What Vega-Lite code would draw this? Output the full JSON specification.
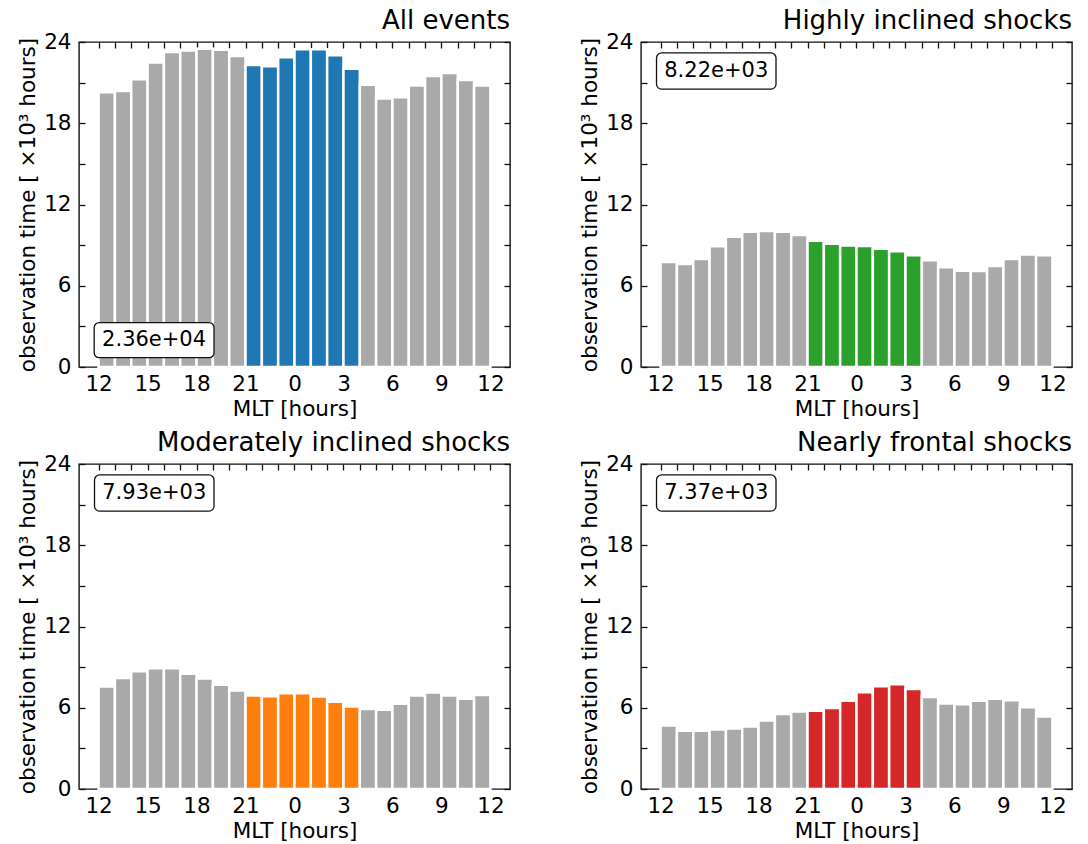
{
  "$schema": "https://vega.github.io/schema/vega-lite/v6.json",
  "background": "white",
  "padding": {"left": 16, "top": 7, "right": 8, "bottom": 2},
  "config": {
    "font": "DejaVu Sans",
    "view": {"stroke": "#111111", "strokeWidth": 1.4},
    "axis": {"labelFont": "DejaVu Sans", "titleFont": "DejaVu Sans", "labelFontSize": 21.5, "titleFontSize": 21.5, "labelColor": "#000000", "titleColor": "#000000", "titleFontWeight": "normal", "grid": false, "domain": false, "tickColor": "#111111", "tickWidth": 1.3, "labelFlush": false, "labelOverlap": false},
    "title": {"font": "DejaVu Sans", "fontSize": 26, "fontWeight": "normal", "anchor": "end", "color": "#000000", "offset": -3, "frame": "group"}
  },
  "datasets": {
    "obs": [
      {"panel": "all", "mlt": 12, "x0": 12, "x1": 13, "kh": 20.29, "sector": "day"},
      {"panel": "all", "mlt": 13, "x0": 13, "x1": 14, "kh": 20.39, "sector": "day"},
      {"panel": "all", "mlt": 14, "x0": 14, "x1": 15, "kh": 21.25, "sector": "day"},
      {"panel": "all", "mlt": 15, "x0": 15, "x1": 16, "kh": 22.48, "sector": "day"},
      {"panel": "all", "mlt": 16, "x0": 16, "x1": 17, "kh": 23.26, "sector": "day"},
      {"panel": "all", "mlt": 17, "x0": 17, "x1": 18, "kh": 23.38, "sector": "day"},
      {"panel": "all", "mlt": 18, "x0": 18, "x1": 19, "kh": 23.51, "sector": "day"},
      {"panel": "all", "mlt": 19, "x0": 19, "x1": 20, "kh": 23.43, "sector": "day"},
      {"panel": "all", "mlt": 20, "x0": 20, "x1": 21, "kh": 22.97, "sector": "day"},
      {"panel": "all", "mlt": 21, "x0": 21, "x1": 22, "kh": 22.30, "sector": "night"},
      {"panel": "all", "mlt": 22, "x0": 22, "x1": 23, "kh": 22.21, "sector": "night"},
      {"panel": "all", "mlt": 23, "x0": 23, "x1": 24, "kh": 22.87, "sector": "night"},
      {"panel": "all", "mlt": 0, "x0": 24, "x1": 25, "kh": 23.46, "sector": "night"},
      {"panel": "all", "mlt": 1, "x0": 25, "x1": 26, "kh": 23.46, "sector": "night"},
      {"panel": "all", "mlt": 2, "x0": 26, "x1": 27, "kh": 23.02, "sector": "night"},
      {"panel": "all", "mlt": 3, "x0": 27, "x1": 28, "kh": 22.03, "sector": "night"},
      {"panel": "all", "mlt": 4, "x0": 28, "x1": 29, "kh": 20.85, "sector": "day"},
      {"panel": "all", "mlt": 5, "x0": 29, "x1": 30, "kh": 19.82, "sector": "day"},
      {"panel": "all", "mlt": 6, "x0": 30, "x1": 31, "kh": 19.92, "sector": "day"},
      {"panel": "all", "mlt": 7, "x0": 31, "x1": 32, "kh": 20.78, "sector": "day"},
      {"panel": "all", "mlt": 8, "x0": 32, "x1": 33, "kh": 21.49, "sector": "day"},
      {"panel": "all", "mlt": 9, "x0": 33, "x1": 34, "kh": 21.71, "sector": "day"},
      {"panel": "all", "mlt": 10, "x0": 34, "x1": 35, "kh": 21.20, "sector": "day"},
      {"panel": "all", "mlt": 11, "x0": 35, "x1": 36, "kh": 20.78, "sector": "day"},
      {"panel": "highly", "mlt": 12, "x0": 12, "x1": 13, "kh": 7.75, "sector": "day"},
      {"panel": "highly", "mlt": 13, "x0": 13, "x1": 14, "kh": 7.61, "sector": "day"},
      {"panel": "highly", "mlt": 14, "x0": 14, "x1": 15, "kh": 7.98, "sector": "day"},
      {"panel": "highly", "mlt": 15, "x0": 15, "x1": 16, "kh": 8.91, "sector": "day"},
      {"panel": "highly", "mlt": 16, "x0": 16, "x1": 17, "kh": 9.62, "sector": "day"},
      {"panel": "highly", "mlt": 17, "x0": 17, "x1": 18, "kh": 9.99, "sector": "day"},
      {"panel": "highly", "mlt": 18, "x0": 18, "x1": 19, "kh": 10.04, "sector": "day"},
      {"panel": "highly", "mlt": 19, "x0": 19, "x1": 20, "kh": 9.99, "sector": "day"},
      {"panel": "highly", "mlt": 20, "x0": 20, "x1": 21, "kh": 9.75, "sector": "day"},
      {"panel": "highly", "mlt": 21, "x0": 21, "x1": 22, "kh": 9.33, "sector": "night"},
      {"panel": "highly", "mlt": 22, "x0": 22, "x1": 23, "kh": 9.11, "sector": "night"},
      {"panel": "highly", "mlt": 23, "x0": 23, "x1": 24, "kh": 8.98, "sector": "night"},
      {"panel": "highly", "mlt": 0, "x0": 24, "x1": 25, "kh": 8.94, "sector": "night"},
      {"panel": "highly", "mlt": 1, "x0": 25, "x1": 26, "kh": 8.74, "sector": "night"},
      {"panel": "highly", "mlt": 2, "x0": 26, "x1": 27, "kh": 8.54, "sector": "night"},
      {"panel": "highly", "mlt": 3, "x0": 27, "x1": 28, "kh": 8.25, "sector": "night"},
      {"panel": "highly", "mlt": 4, "x0": 28, "x1": 29, "kh": 7.88, "sector": "day"},
      {"panel": "highly", "mlt": 5, "x0": 29, "x1": 30, "kh": 7.36, "sector": "day"},
      {"panel": "highly", "mlt": 6, "x0": 30, "x1": 31, "kh": 7.11, "sector": "day"},
      {"panel": "highly", "mlt": 7, "x0": 31, "x1": 32, "kh": 7.09, "sector": "day"},
      {"panel": "highly", "mlt": 8, "x0": 32, "x1": 33, "kh": 7.46, "sector": "day"},
      {"panel": "highly", "mlt": 9, "x0": 33, "x1": 34, "kh": 7.98, "sector": "day"},
      {"panel": "highly", "mlt": 10, "x0": 34, "x1": 35, "kh": 8.30, "sector": "day"},
      {"panel": "highly", "mlt": 11, "x0": 35, "x1": 36, "kh": 8.25, "sector": "day"},
      {"panel": "moderately", "mlt": 12, "x0": 12, "x1": 13, "kh": 7.57, "sector": "day"},
      {"panel": "moderately", "mlt": 13, "x0": 13, "x1": 14, "kh": 8.20, "sector": "day"},
      {"panel": "moderately", "mlt": 14, "x0": 14, "x1": 15, "kh": 8.70, "sector": "day"},
      {"panel": "moderately", "mlt": 15, "x0": 15, "x1": 16, "kh": 8.92, "sector": "day"},
      {"panel": "moderately", "mlt": 16, "x0": 16, "x1": 17, "kh": 8.92, "sector": "day"},
      {"panel": "moderately", "mlt": 17, "x0": 17, "x1": 18, "kh": 8.52, "sector": "day"},
      {"panel": "moderately", "mlt": 18, "x0": 18, "x1": 19, "kh": 8.16, "sector": "day"},
      {"panel": "moderately", "mlt": 19, "x0": 19, "x1": 20, "kh": 7.69, "sector": "day"},
      {"panel": "moderately", "mlt": 20, "x0": 20, "x1": 21, "kh": 7.27, "sector": "day"},
      {"panel": "moderately", "mlt": 21, "x0": 21, "x1": 22, "kh": 6.90, "sector": "night"},
      {"panel": "moderately", "mlt": 22, "x0": 22, "x1": 23, "kh": 6.85, "sector": "night"},
      {"panel": "moderately", "mlt": 23, "x0": 23, "x1": 24, "kh": 7.07, "sector": "night"},
      {"panel": "moderately", "mlt": 0, "x0": 24, "x1": 25, "kh": 7.07, "sector": "night"},
      {"panel": "moderately", "mlt": 1, "x0": 25, "x1": 26, "kh": 6.83, "sector": "night"},
      {"panel": "moderately", "mlt": 2, "x0": 26, "x1": 27, "kh": 6.44, "sector": "night"},
      {"panel": "moderately", "mlt": 3, "x0": 27, "x1": 28, "kh": 6.09, "sector": "night"},
      {"panel": "moderately", "mlt": 4, "x0": 28, "x1": 29, "kh": 5.90, "sector": "day"},
      {"panel": "moderately", "mlt": 5, "x0": 29, "x1": 30, "kh": 5.85, "sector": "day"},
      {"panel": "moderately", "mlt": 6, "x0": 30, "x1": 31, "kh": 6.29, "sector": "day"},
      {"panel": "moderately", "mlt": 7, "x0": 31, "x1": 32, "kh": 6.90, "sector": "day"},
      {"panel": "moderately", "mlt": 8, "x0": 32, "x1": 33, "kh": 7.12, "sector": "day"},
      {"panel": "moderately", "mlt": 9, "x0": 33, "x1": 34, "kh": 6.90, "sector": "day"},
      {"panel": "moderately", "mlt": 10, "x0": 34, "x1": 35, "kh": 6.66, "sector": "day"},
      {"panel": "moderately", "mlt": 11, "x0": 35, "x1": 36, "kh": 6.95, "sector": "day"},
      {"panel": "frontal", "mlt": 12, "x0": 12, "x1": 13, "kh": 4.69, "sector": "day"},
      {"panel": "frontal", "mlt": 13, "x0": 13, "x1": 14, "kh": 4.30, "sector": "day"},
      {"panel": "frontal", "mlt": 14, "x0": 14, "x1": 15, "kh": 4.30, "sector": "day"},
      {"panel": "frontal", "mlt": 15, "x0": 15, "x1": 16, "kh": 4.40, "sector": "day"},
      {"panel": "frontal", "mlt": 16, "x0": 16, "x1": 17, "kh": 4.47, "sector": "day"},
      {"panel": "frontal", "mlt": 17, "x0": 17, "x1": 18, "kh": 4.62, "sector": "day"},
      {"panel": "frontal", "mlt": 18, "x0": 18, "x1": 19, "kh": 5.06, "sector": "day"},
      {"panel": "frontal", "mlt": 19, "x0": 19, "x1": 20, "kh": 5.53, "sector": "day"},
      {"panel": "frontal", "mlt": 20, "x0": 20, "x1": 21, "kh": 5.72, "sector": "day"},
      {"panel": "frontal", "mlt": 21, "x0": 21, "x1": 22, "kh": 5.77, "sector": "night"},
      {"panel": "frontal", "mlt": 22, "x0": 22, "x1": 23, "kh": 5.99, "sector": "night"},
      {"panel": "frontal", "mlt": 23, "x0": 23, "x1": 24, "kh": 6.51, "sector": "night"},
      {"panel": "frontal", "mlt": 0, "x0": 24, "x1": 25, "kh": 7.15, "sector": "night"},
      {"panel": "frontal", "mlt": 1, "x0": 25, "x1": 26, "kh": 7.59, "sector": "night"},
      {"panel": "frontal", "mlt": 2, "x0": 26, "x1": 27, "kh": 7.74, "sector": "night"},
      {"panel": "frontal", "mlt": 3, "x0": 27, "x1": 28, "kh": 7.39, "sector": "night"},
      {"panel": "frontal", "mlt": 4, "x0": 28, "x1": 29, "kh": 6.80, "sector": "day"},
      {"panel": "frontal", "mlt": 5, "x0": 29, "x1": 30, "kh": 6.31, "sector": "day"},
      {"panel": "frontal", "mlt": 6, "x0": 30, "x1": 31, "kh": 6.26, "sector": "day"},
      {"panel": "frontal", "mlt": 7, "x0": 31, "x1": 32, "kh": 6.51, "sector": "day"},
      {"panel": "frontal", "mlt": 8, "x0": 32, "x1": 33, "kh": 6.66, "sector": "day"},
      {"panel": "frontal", "mlt": 9, "x0": 33, "x1": 34, "kh": 6.56, "sector": "day"},
      {"panel": "frontal", "mlt": 10, "x0": 34, "x1": 35, "kh": 6.04, "sector": "day"},
      {"panel": "frontal", "mlt": 11, "x0": 35, "x1": 36, "kh": 5.35, "sector": "day"}
    ],
    "notes": [
      {"panel": "all", "note": "2.36e+04"},
      {"panel": "highly", "note": "8.22e+03"},
      {"panel": "moderately", "note": "7.93e+03"},
      {"panel": "frontal", "note": "7.37e+03"}
    ]
  },
  "columns": 2,
  "spacing": {"row": 8, "column": 66},
  "concat": [
    {
      "width": 431, "height": 325,
      "title": {"text": "All events"},
      "layer": [
        {
          "data": {"name": "obs"},
          "transform": [{"filter": "datum.panel === 'all'"}],
          "mark": {"type": "bar", "stroke": "white", "strokeWidth": 2.5},
          "encoding": {
            "x": {"field": "x0", "type": "quantitative", "scale": {"domain": [10.8, 37.2], "nice": false, "zero": false}, "axis": {"orient": "bottom", "values": [12, 15, 18, 21, 24, 27, 30, 33, 36], "labelExpr": "'' + (datum.value % 24)", "ticks": false, "labelPadding": 6, "title": "MLT [hours]", "titlePadding": 4}},
            "x2": {"field": "x1"},
            "y": {"field": "kh", "type": "quantitative", "scale": {"domain": [0, 24], "nice": false}, "axis": {"orient": "left", "values": [0, 3, 6, 9, 12, 15, 18, 21, 24], "tickSize": -6, "labelPadding": 14, "labelExpr": "datum.value % 6 === 0 ? datum.label : ''", "title": "observation time [ ×10³ hours]", "titlePadding": 4}},
            "y2": {"datum": 0},
            "color": {"condition": {"test": "datum.sector === 'night'", "value": "#1f77b4"}, "value": "#a9a9a9"}
          }
        },
        {
          "data": {"name": "notes"},
          "transform": [{"filter": "datum.panel === 'all'"}],
          "mark": {"type": "rect", "fill": "white", "stroke": "#111111", "strokeWidth": 1.3, "cornerRadius": 5},
          "encoding": {
            "x": {"datum": 11.73, "type": "quantitative", "scale": {"domain": [10.8, 37.2], "nice": false, "zero": false}, "axis": {"orient": "top", "values": [12, 13, 14, 15, 16, 17, 18, 19, 20, 21, 22, 23, 24, 25, 26, 27, 28, 29, 30, 31, 32, 33, 34, 35, 36], "tickSize": -6, "labels": false, "title": null}},
            "x2": {"datum": 19.07},
            "y": {"datum": 0.69, "type": "quantitative", "scale": {"domain": [0, 24], "nice": false}, "axis": {"orient": "right", "values": [0, 3, 6, 9, 12, 15, 18, 21, 24], "tickSize": -6, "labels": false, "title": null}},
            "y2": {"datum": 3.28}
          }
        },
        {
          "data": {"name": "notes"},
          "transform": [{"filter": "datum.panel === 'all'"}],
          "mark": {"type": "text", "font": "DejaVu Sans", "fontSize": 21, "color": "#000000"},
          "encoding": {
            "x": {"datum": 15.4, "type": "quantitative", "scale": {"domain": [10.8, 37.2], "nice": false, "zero": false}, "axis": null},
            "y": {"datum": 1.98, "type": "quantitative", "scale": {"domain": [0, 24], "nice": false}, "axis": null},
            "text": {"field": "note"}
          }
        }
      ]
    },
    {
      "width": 431, "height": 325,
      "title": {"text": "Highly inclined shocks"},
      "layer": [
        {
          "data": {"name": "obs"},
          "transform": [{"filter": "datum.panel === 'highly'"}],
          "mark": {"type": "bar", "stroke": "white", "strokeWidth": 2.5},
          "encoding": {
            "x": {"field": "x0", "type": "quantitative", "scale": {"domain": [10.8, 37.2], "nice": false, "zero": false}, "axis": {"orient": "bottom", "values": [12, 15, 18, 21, 24, 27, 30, 33, 36], "labelExpr": "'' + (datum.value % 24)", "ticks": false, "labelPadding": 6, "title": "MLT [hours]", "titlePadding": 4}},
            "x2": {"field": "x1"},
            "y": {"field": "kh", "type": "quantitative", "scale": {"domain": [0, 24], "nice": false}, "axis": {"orient": "left", "values": [0, 3, 6, 9, 12, 15, 18, 21, 24], "tickSize": -6, "labelPadding": 14, "labelExpr": "datum.value % 6 === 0 ? datum.label : ''", "title": "observation time [ ×10³ hours]", "titlePadding": 4}},
            "y2": {"datum": 0},
            "color": {"condition": {"test": "datum.sector === 'night'", "value": "#2ca02c"}, "value": "#a9a9a9"}
          }
        },
        {
          "data": {"name": "notes"},
          "transform": [{"filter": "datum.panel === 'highly'"}],
          "mark": {"type": "rect", "fill": "white", "stroke": "#111111", "strokeWidth": 1.3, "cornerRadius": 5},
          "encoding": {
            "x": {"datum": 11.75, "type": "quantitative", "scale": {"domain": [10.8, 37.2], "nice": false, "zero": false}, "axis": {"orient": "top", "values": [12, 13, 14, 15, 16, 17, 18, 19, 20, 21, 22, 23, 24, 25, 26, 27, 28, 29, 30, 31, 32, 33, 34, 35, 36], "tickSize": -6, "labels": false, "title": null}},
            "x2": {"datum": 19.07},
            "y": {"datum": 20.52, "type": "quantitative", "scale": {"domain": [0, 24], "nice": false}, "axis": {"orient": "right", "values": [0, 3, 6, 9, 12, 15, 18, 21, 24], "tickSize": -6, "labels": false, "title": null}},
            "y2": {"datum": 23.19}
          }
        },
        {
          "data": {"name": "notes"},
          "transform": [{"filter": "datum.panel === 'highly'"}],
          "mark": {"type": "text", "font": "DejaVu Sans", "fontSize": 21, "color": "#000000"},
          "encoding": {
            "x": {"datum": 15.41, "type": "quantitative", "scale": {"domain": [10.8, 37.2], "nice": false, "zero": false}, "axis": null},
            "y": {"datum": 21.85, "type": "quantitative", "scale": {"domain": [0, 24], "nice": false}, "axis": null},
            "text": {"field": "note"}
          }
        }
      ]
    },
    {
      "width": 431, "height": 325,
      "title": {"text": "Moderately inclined shocks"},
      "layer": [
        {
          "data": {"name": "obs"},
          "transform": [{"filter": "datum.panel === 'moderately'"}],
          "mark": {"type": "bar", "stroke": "white", "strokeWidth": 2.5},
          "encoding": {
            "x": {"field": "x0", "type": "quantitative", "scale": {"domain": [10.8, 37.2], "nice": false, "zero": false}, "axis": {"orient": "bottom", "values": [12, 15, 18, 21, 24, 27, 30, 33, 36], "labelExpr": "'' + (datum.value % 24)", "ticks": false, "labelPadding": 6, "title": "MLT [hours]", "titlePadding": 4}},
            "x2": {"field": "x1"},
            "y": {"field": "kh", "type": "quantitative", "scale": {"domain": [0, 24], "nice": false}, "axis": {"orient": "left", "values": [0, 3, 6, 9, 12, 15, 18, 21, 24], "tickSize": -6, "labelPadding": 14, "labelExpr": "datum.value % 6 === 0 ? datum.label : ''", "title": "observation time [ ×10³ hours]", "titlePadding": 4}},
            "y2": {"datum": 0},
            "color": {"condition": {"test": "datum.sector === 'night'", "value": "#ff7f0e"}, "value": "#a9a9a9"}
          }
        },
        {
          "data": {"name": "notes"},
          "transform": [{"filter": "datum.panel === 'moderately'"}],
          "mark": {"type": "rect", "fill": "white", "stroke": "#111111", "strokeWidth": 1.3, "cornerRadius": 5},
          "encoding": {
            "x": {"datum": 11.75, "type": "quantitative", "scale": {"domain": [10.8, 37.2], "nice": false, "zero": false}, "axis": {"orient": "top", "values": [12, 13, 14, 15, 16, 17, 18, 19, 20, 21, 22, 23, 24, 25, 26, 27, 28, 29, 30, 31, 32, 33, 34, 35, 36], "tickSize": -6, "labels": false, "title": null}},
            "x2": {"datum": 19.07},
            "y": {"datum": 20.52, "type": "quantitative", "scale": {"domain": [0, 24], "nice": false}, "axis": {"orient": "right", "values": [0, 3, 6, 9, 12, 15, 18, 21, 24], "tickSize": -6, "labels": false, "title": null}},
            "y2": {"datum": 23.19}
          }
        },
        {
          "data": {"name": "notes"},
          "transform": [{"filter": "datum.panel === 'moderately'"}],
          "mark": {"type": "text", "font": "DejaVu Sans", "fontSize": 21, "color": "#000000"},
          "encoding": {
            "x": {"datum": 15.41, "type": "quantitative", "scale": {"domain": [10.8, 37.2], "nice": false, "zero": false}, "axis": null},
            "y": {"datum": 21.85, "type": "quantitative", "scale": {"domain": [0, 24], "nice": false}, "axis": null},
            "text": {"field": "note"}
          }
        }
      ]
    },
    {
      "width": 431, "height": 325,
      "title": {"text": "Nearly frontal shocks"},
      "layer": [
        {
          "data": {"name": "obs"},
          "transform": [{"filter": "datum.panel === 'frontal'"}],
          "mark": {"type": "bar", "stroke": "white", "strokeWidth": 2.5},
          "encoding": {
            "x": {"field": "x0", "type": "quantitative", "scale": {"domain": [10.8, 37.2], "nice": false, "zero": false}, "axis": {"orient": "bottom", "values": [12, 15, 18, 21, 24, 27, 30, 33, 36], "labelExpr": "'' + (datum.value % 24)", "ticks": false, "labelPadding": 6, "title": "MLT [hours]", "titlePadding": 4}},
            "x2": {"field": "x1"},
            "y": {"field": "kh", "type": "quantitative", "scale": {"domain": [0, 24], "nice": false}, "axis": {"orient": "left", "values": [0, 3, 6, 9, 12, 15, 18, 21, 24], "tickSize": -6, "labelPadding": 14, "labelExpr": "datum.value % 6 === 0 ? datum.label : ''", "title": "observation time [ ×10³ hours]", "titlePadding": 4}},
            "y2": {"datum": 0},
            "color": {"condition": {"test": "datum.sector === 'night'", "value": "#d62728"}, "value": "#a9a9a9"}
          }
        },
        {
          "data": {"name": "notes"},
          "transform": [{"filter": "datum.panel === 'frontal'"}],
          "mark": {"type": "rect", "fill": "white", "stroke": "#111111", "strokeWidth": 1.3, "cornerRadius": 5},
          "encoding": {
            "x": {"datum": 11.75, "type": "quantitative", "scale": {"domain": [10.8, 37.2], "nice": false, "zero": false}, "axis": {"orient": "top", "values": [12, 13, 14, 15, 16, 17, 18, 19, 20, 21, 22, 23, 24, 25, 26, 27, 28, 29, 30, 31, 32, 33, 34, 35, 36], "tickSize": -6, "labels": false, "title": null}},
            "x2": {"datum": 19.07},
            "y": {"datum": 20.52, "type": "quantitative", "scale": {"domain": [0, 24], "nice": false}, "axis": {"orient": "right", "values": [0, 3, 6, 9, 12, 15, 18, 21, 24], "tickSize": -6, "labels": false, "title": null}},
            "y2": {"datum": 23.19}
          }
        },
        {
          "data": {"name": "notes"},
          "transform": [{"filter": "datum.panel === 'frontal'"}],
          "mark": {"type": "text", "font": "DejaVu Sans", "fontSize": 21, "color": "#000000"},
          "encoding": {
            "x": {"datum": 15.41, "type": "quantitative", "scale": {"domain": [10.8, 37.2], "nice": false, "zero": false}, "axis": null},
            "y": {"datum": 21.85, "type": "quantitative", "scale": {"domain": [0, 24], "nice": false}, "axis": null},
            "text": {"field": "note"}
          }
        }
      ]
    }
  ]
}
